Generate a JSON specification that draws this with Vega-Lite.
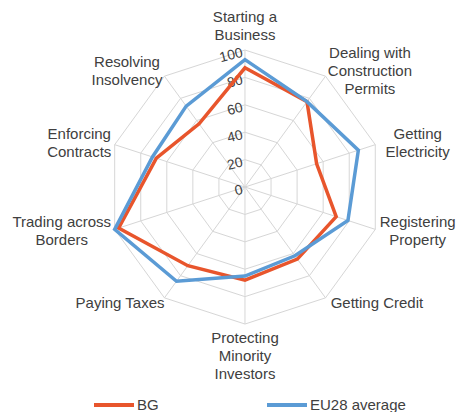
{
  "$schema": "https://vega.github.io/schema/vega-lite/v6.json",
  "width": 459,
  "height": 412,
  "padding": 0,
  "autosize": {"type": "none"},
  "background": "white",
  "config": {
    "view": {"stroke": null},
    "text": {"font": "Liberation Sans"},
    "legend": {"labelFont": "Liberation Sans"}
  },
  "datasets": {
    "scores": [
      {"i": 0, "indicator": "Starting a Business", "BG": 87, "EU28 average": 93},
      {"i": 1, "indicator": "Dealing with Construction Permits", "BG": 77, "EU28 average": 77},
      {"i": 2, "indicator": "Getting Electricity", "BG": 55, "EU28 average": 87},
      {"i": 3, "indicator": "Registering Property", "BG": 70, "EU28 average": 79},
      {"i": 4, "indicator": "Getting Credit", "BG": 65, "EU28 average": 62},
      {"i": 5, "indicator": "Protecting Minority Investors", "BG": 68, "EU28 average": 65},
      {"i": 6, "indicator": "Paying Taxes", "BG": 71, "EU28 average": 85},
      {"i": 7, "indicator": "Trading across Borders", "BG": 97, "EU28 average": 100},
      {"i": 8, "indicator": "Enforcing Contracts", "BG": 68, "EU28 average": 71},
      {"i": 9, "indicator": "Resolving Insolvency", "BG": 57, "EU28 average": 73}
    ],
    "axes": [
      {"i": 0, "label": "Starting a\nBusiness"},
      {"i": 1, "label": "Dealing with\nConstruction\nPermits"},
      {"i": 2, "label": "Getting\nElectricity"},
      {"i": 3, "label": "Registering\nProperty"},
      {"i": 4, "label": "Getting Credit"},
      {"i": 5, "label": "Protecting\nMinority\nInvestors"},
      {"i": 6, "label": "Paying Taxes"},
      {"i": 7, "label": "Trading across\nBorders"},
      {"i": 8, "label": "Enforcing\nContracts"},
      {"i": 9, "label": "Resolving\nInsolvency"}
    ],
    "rings": [
      {"level": 20, "k": [0, 1, 2, 3, 4, 5, 6, 7, 8, 9]},
      {"level": 40, "k": [0, 1, 2, 3, 4, 5, 6, 7, 8, 9]},
      {"level": 60, "k": [0, 1, 2, 3, 4, 5, 6, 7, 8, 9]},
      {"level": 80, "k": [0, 1, 2, 3, 4, 5, 6, 7, 8, 9]},
      {"level": 100, "k": [0, 1, 2, 3, 4, 5, 6, 7, 8, 9]}
    ],
    "tickvals": [
      {"level": 0}, {"level": 20}, {"level": 40}, {"level": 60}, {"level": 80}, {"level": 100}
    ]
  },
  "layer": [
    {
      "data": {"name": "rings"},
      "transform": [
        {"flatten": ["k"], "as": ["i"]},
        {"calculate": "datum.level*sin(datum.i*PI/5)", "as": "px"},
        {"calculate": "datum.level*cos(datum.i*PI/5)", "as": "py"}
      ],
      "mark": {"type": "line", "interpolate": "linear-closed", "stroke": "#D6D6D6", "strokeWidth": 1},
      "encoding": {
        "x": {"field": "px", "type": "quantitative", "scale": {"domain": [-178.8, 156.2], "nice": false, "zero": false}, "axis": null},
        "y": {"field": "py", "type": "quantitative", "scale": {"domain": [-164.2, 136.5], "nice": false, "zero": false}, "axis": null},
        "detail": {"field": "level", "type": "nominal"},
        "order": {"field": "i", "type": "quantitative"}
      }
    },
    {
      "data": {"name": "axes"},
      "transform": [
        {"calculate": "100*sin(datum.i*PI/5)", "as": "px"},
        {"calculate": "100*cos(datum.i*PI/5)", "as": "py"},
        {"calculate": "0", "as": "cx"}
      ],
      "mark": {"type": "rule", "stroke": "#D6D6D6", "strokeWidth": 1},
      "encoding": {
        "x": {"field": "px", "type": "quantitative", "scale": {"domain": [-178.8, 156.2], "nice": false, "zero": false}, "axis": null},
        "y": {"field": "py", "type": "quantitative", "scale": {"domain": [-164.2, 136.5], "nice": false, "zero": false}, "axis": null},
        "x2": {"field": "cx"},
        "y2": {"field": "cx"}
      }
    },
    {
      "data": {"name": "tickvals"},
      "transform": [
        {"calculate": "0", "as": "cx"}
      ],
      "mark": {"type": "text", "align": "right", "baseline": "middle", "dx": -3, "dy": 2, "angle": -14, "fontSize": 14, "fill": "#404040"},
      "encoding": {
        "x": {"field": "cx", "type": "quantitative", "scale": {"domain": [-178.8, 156.2], "nice": false, "zero": false}, "axis": null},
        "y": {"field": "level", "type": "quantitative", "scale": {"domain": [-164.2, 136.5], "nice": false, "zero": false}, "axis": null},
        "text": {"field": "level", "type": "quantitative"}
      }
    },
    {
      "data": {"name": "scores"},
      "transform": [
        {"fold": ["BG", "EU28 average"], "as": ["series", "value"]},
        {"calculate": "datum.value*sin(datum.i*PI/5)", "as": "px"},
        {"calculate": "datum.value*cos(datum.i*PI/5)", "as": "py"}
      ],
      "mark": {"type": "line", "interpolate": "linear-closed", "strokeWidth": 3.5},
      "encoding": {
        "x": {"field": "px", "type": "quantitative", "scale": {"domain": [-178.8, 156.2], "nice": false, "zero": false}, "axis": null},
        "y": {"field": "py", "type": "quantitative", "scale": {"domain": [-164.2, 136.5], "nice": false, "zero": false}, "axis": null},
        "order": {"field": "i", "type": "quantitative"},
        "color": {
          "field": "series",
          "type": "nominal",
          "scale": {"domain": ["BG", "EU28 average"], "range": ["#E8552C", "#5B9BD5"]},
          "legend": {
            "title": null,
            "orient": "none",
            "direction": "horizontal",
            "legendX": 92,
            "legendY": 383,
            "padding": 0,
            "symbolType": "stroke",
            "symbolSize": 1600,
            "symbolStrokeWidth": 4,
            "labelFontSize": 15,
            "labelColor": "#404040",
            "labelOffset": 1,
            "columnPadding": 100
          }
        }
      }
    },
    {
      "data": {"name": "axes"},
      "transform": [
        {"filter": "datum.i != 0 && datum.i != 5"},
        {"calculate": "split(datum.label, '\\n')", "as": "lines"},
        {"calculate": "length(datum.lines)", "as": "n"},
        {"calculate": "max(length(datum.lines[0]), datum.n > 1 ? length(datum.lines[1]) : 0, datum.n > 2 ? length(datum.lines[2]) : 0)", "as": "m"},
        {"calculate": "sin(datum.i*PI/5)", "as": "s"},
        {"calculate": "cos(datum.i*PI/5)", "as": "c"},
        {"calculate": "103*datum.s + (datum.s > 0 ? 1 : -1) * datum.m * 3.5 / 1.37", "as": "px"},
        {"calculate": "105*datum.c + (datum.n - 1) * 9 / 1.37", "as": "py"}
      ],
      "mark": {"type": "text", "align": "center", "baseline": "middle", "fontSize": 15, "fill": "#404040", "lineBreak": "\n", "lineHeight": 18},
      "encoding": {
        "x": {"field": "px", "type": "quantitative", "scale": {"domain": [-178.8, 156.2], "nice": false, "zero": false}, "axis": null},
        "y": {"field": "py", "type": "quantitative", "scale": {"domain": [-164.2, 136.5], "nice": false, "zero": false}, "axis": null},
        "text": {"field": "label", "type": "nominal"}
      }
    },
    {
      "data": {"name": "axes"},
      "transform": [
        {"filter": "datum.i == 0"},
        {"calculate": "0", "as": "px"},
        {"calculate": "124", "as": "py"}
      ],
      "mark": {"type": "text", "align": "center", "baseline": "middle", "fontSize": 15, "fill": "#404040", "lineBreak": "\n", "lineHeight": 18},
      "encoding": {
        "x": {"field": "px", "type": "quantitative", "scale": {"domain": [-178.8, 156.2], "nice": false, "zero": false}, "axis": null},
        "y": {"field": "py", "type": "quantitative", "scale": {"domain": [-164.2, 136.5], "nice": false, "zero": false}, "axis": null},
        "text": {"field": "label", "type": "nominal"}
      }
    },
    {
      "data": {"name": "axes"},
      "transform": [
        {"filter": "datum.i == 5"},
        {"calculate": "0", "as": "px"},
        {"calculate": "-110", "as": "py"}
      ],
      "mark": {"type": "text", "align": "center", "baseline": "middle", "fontSize": 15, "fill": "#404040", "lineBreak": "\n", "lineHeight": 18},
      "encoding": {
        "x": {"field": "px", "type": "quantitative", "scale": {"domain": [-178.8, 156.2], "nice": false, "zero": false}, "axis": null},
        "y": {"field": "py", "type": "quantitative", "scale": {"domain": [-164.2, 136.5], "nice": false, "zero": false}, "axis": null},
        "text": {"field": "label", "type": "nominal"}
      }
    }
  ]
}
